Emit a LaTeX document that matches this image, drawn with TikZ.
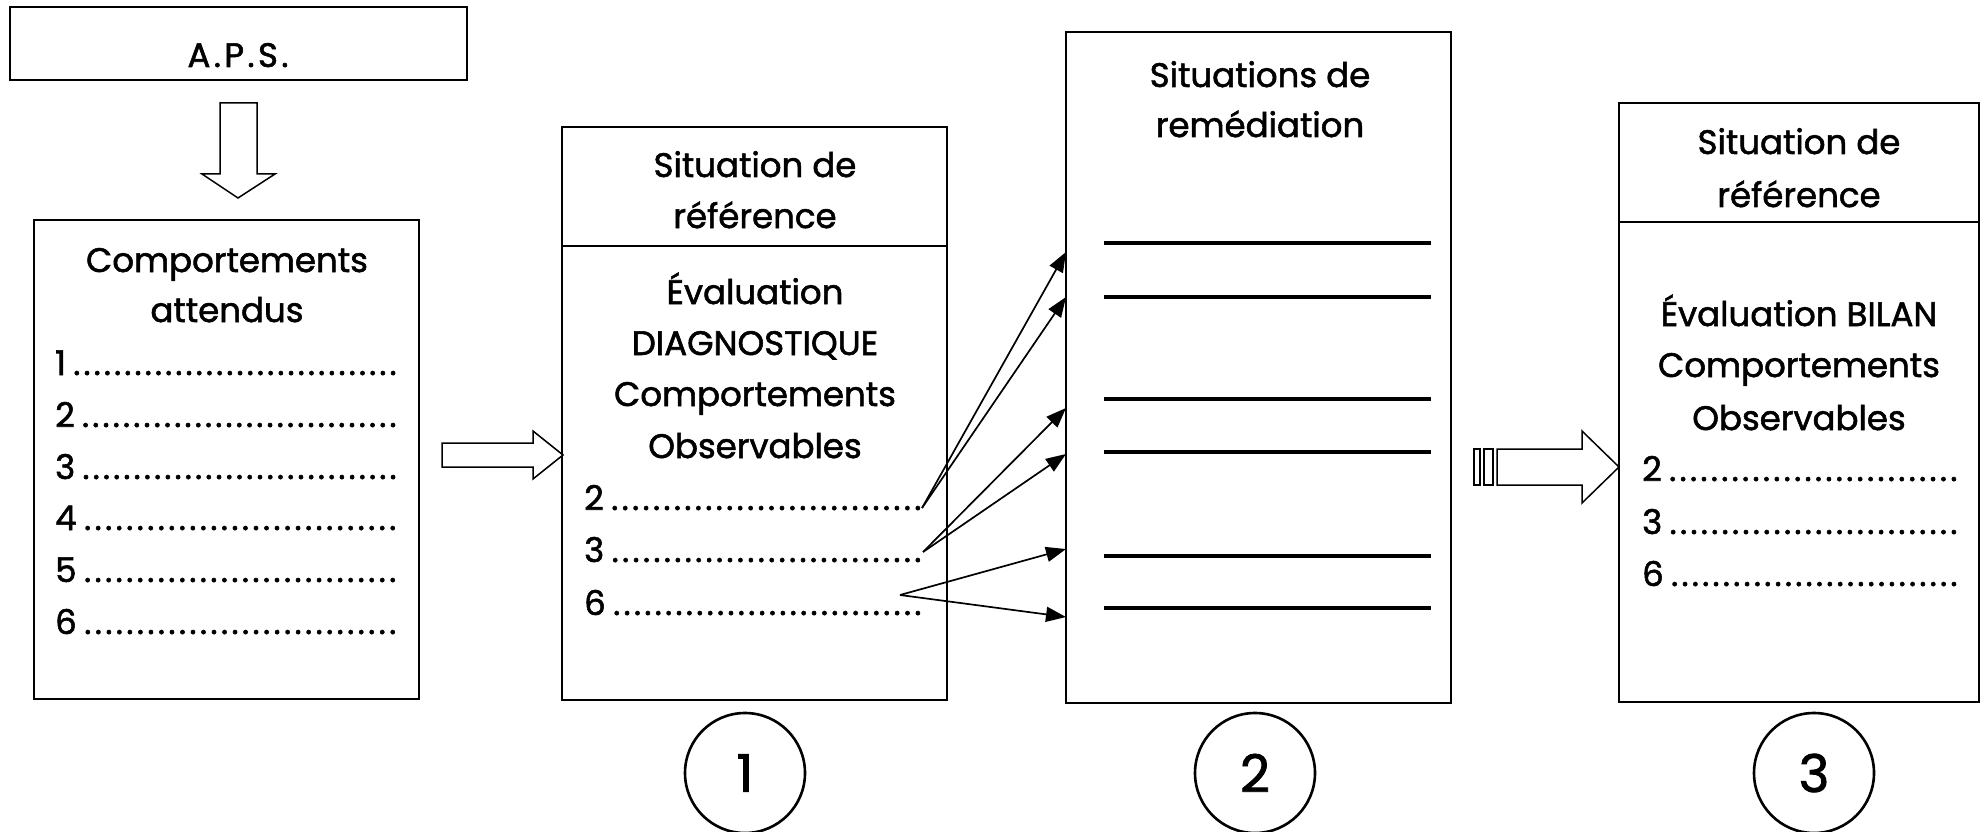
\documentclass[tikz,border=0pt]{standalone}
\usepackage{fontspec}
\setmainfont{Poppins}[FakeBold=1.6]
\usetikzlibrary{arrows.meta}
\newcommand{\dotrow}[2]{\makebox[#2][l]{#1\,\xleaders\hbox to 10.2pt{\hss.\hss}\hfill}}
\tikzset{
  box/.style={draw, line width=2pt, anchor=north west, inner sep=0pt, outer sep=0pt},
  txt/.style={anchor=base, inner sep=0pt, font=\fontsize{34}{40}\selectfont},
  item/.style={anchor=base west, inner sep=0pt, font=\fontsize{34}{40}\selectfont},
  conn/.style={line width=1.7pt, -{Triangle[length=20pt,width=15pt]}},
  blockarrow/.style={draw, line width=1.5pt, fill=white, line join=miter},
  numcircle/.style={draw, circle, line width=2.6pt, minimum size=120pt, inner sep=0pt, font=\fontsize{52}{60}\selectfont},
  rline/.style={line width=3.2pt},
  divider/.style={line width=2pt},
}
\begin{document}
\begin{tikzpicture}[x=1pt,y=-1pt]
\useasboundingbox (0,0) rectangle (1982,832);
% boxes
\node[box, minimum width=457pt, minimum height=73pt] (aps) at (10,7) {};
\node[box, minimum width=385pt, minimum height=479pt] (comp) at (34,220) {};
\node[box, minimum width=385pt, minimum height=573pt] (diag) at (562,127) {};
\node[box, minimum width=385pt, minimum height=671pt] (rem) at (1066,32) {};
\node[box, minimum width=360pt, minimum height=599pt] (bilan) at (1619,103) {};
\draw[divider] (diag.west |- 0,246) -- (diag.east |- 0,246);
\draw[divider] (bilan.west |- 0,222) -- (bilan.east |- 0,222);
% texts
\node[txt] (apst) at (238,67) {\addfontfeature{LetterSpace=10}A.P.S.};
\node[txt] (ct1) at (227,272) {Comportements};
\node[txt] (ct2) at (227,322) {attendus};
\node[item] (b1) at (55,375) {\dotrow{1}{343pt}};
\node[item] (b2) at (55,427) {\dotrow{2}{343pt}};
\node[item] (b3) at (55,479) {\dotrow{3}{343pt}};
\node[item] (b4) at (55,530) {\dotrow{4}{343pt}};
\node[item] (b5) at (55,582) {\dotrow{5}{343pt}};
\node[item] (b6) at (55,634) {\dotrow{6}{343pt}};
\node[txt] (dt1) at (755,177) {Situation de};
\node[txt] (dt2) at (755,228) {référence};
\node[txt] (dt3) at (755,304) {Évaluation};
\node[txt] (dt4) at (755,355) {DIAGNOSTIQUE};
\node[txt] (dt5) at (755,406) {Comportements};
\node[txt] (dt6) at (755,458) {Observables};
\node[item] (d2) at (584,510) {\dotrow{2}{339pt}};
\node[item] (d3) at (584,562) {\dotrow{3}{339pt}};
\node[item] (d6) at (584,615) {\dotrow{6}{339pt}};
\node[txt] (rt1) at (1260,87) {Situations de};
\node[txt] (rt2) at (1260,137) {remédiation};
\node[txt] (et1) at (1799,154) {Situation de};
\node[txt] (et2) at (1799,207) {référence};
\node[txt] (et3) at (1799,326) {Évaluation BILAN};
\node[txt] (et4) at (1799,377) {Comportements};
\node[txt] (et5) at (1799,430) {Observables};
\node[item] (e2) at (1642,481) {\dotrow{2}{317pt}};
\node[item] (e3) at (1642,534) {\dotrow{3}{317pt}};
\node[item] (e6) at (1642,586) {\dotrow{6}{317pt}};
% remediation lines
\foreach \yy in {243,297,399,452,556,608}
  \draw[rline] (1104,\yy) -- (1431,\yy);
% block arrows
\draw[blockarrow] (220,103) -- (257,103) -- (257,174) -- (275,174) -- (238,198) -- (202,174) -- (220,174) -- cycle;
\draw[blockarrow] (442,443) -- (533,443) -- (533,431) -- (563,455) -- (533,479) -- (533,467) -- (442,467) -- cycle;
\draw[blockarrow] (1474,449) rectangle (1480,485);
\draw[blockarrow] (1484,449) rectangle (1493,485);
\draw[blockarrow] (1497,449) -- (1582,449) -- (1582,431) -- (1619,467) -- (1582,503) -- (1582,485) -- (1497,485) -- cycle;
% thin arrows
\coordinate (s2) at (922,508);
\coordinate (s3) at (923,552);
\coordinate (s6) at (900,595);
\coordinate (t1) at (rem.west |- 0,252);
\coordinate (t2) at (rem.west |- 0,297);
\coordinate (t3) at (rem.west |- 0,408);
\coordinate (t4) at (rem.west |- 0,454);
\coordinate (t5) at (rem.west |- 0,549);
\coordinate (t6) at (rem.west |- 0,617);
\draw[conn] (s2) -- (t1);
\draw[conn] (s2) -- (t2);
\draw[conn] (s3) -- (t3);
\draw[conn] (s3) -- (t4);
\draw[conn] (s6) -- (t5);
\draw[conn] (s6) -- (t6);
% numbers
\node[numcircle] (n1) at (745,773) {1};
\node[numcircle] (n2) at (1255,773) {2};
\node[numcircle] (n3) at (1814,773) {3};
\end{tikzpicture}
\end{document}
